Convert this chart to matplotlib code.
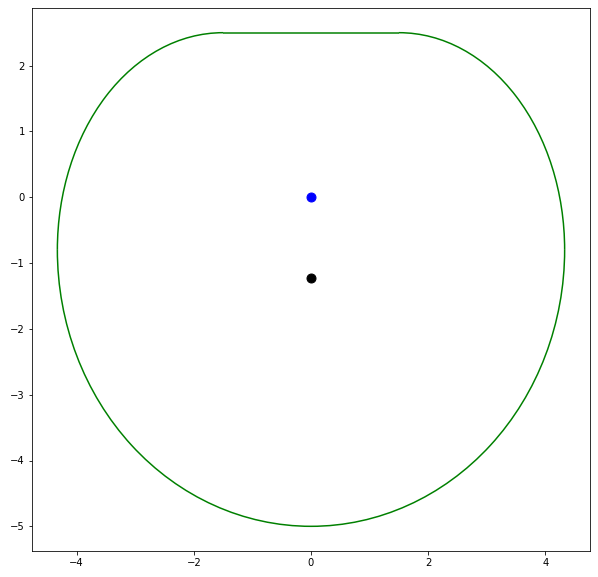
import matplotlib
matplotlib.use('Agg')
import matplotlib.pyplot as plt
from matplotlib.patches import Arc

# flat top edge of the boundary
top_x = [-1.5, 1.5]
top_y = [2.5, 2.5]

# curved parts of the boundary: upper-right, upper-left corner, lower half
arc_cx = [1.5, -1.5, 0.0]
arc_cy = [-0.8, -0.8, -0.8]
arc_w = [5.66, 5.66, 8.66]
arc_h = [6.6, 6.6, 8.4]
arc_t1 = [0, 90, 180]
arc_t2 = [90, 180, 360]

# points
blue_x = [0.0]
blue_y = [0.0]
black_x = [0.0]
black_y = [-1.22]

fig = plt.figure(figsize=(598 / 72, 577 / 72), dpi=72)
ax = fig.add_axes([32 / 598, 26 / 577, 558 / 598, 543 / 577])

ax.plot(top_x, top_y, color='g', linewidth=1.5, solid_capstyle='butt')
for cx, cy, w, h, t1, t2 in zip(arc_cx, arc_cy, arc_w, arc_h, arc_t1, arc_t2):
    ax.add_patch(Arc((cx, cy), w, h, theta1=t1, theta2=t2, color='g',
                     linewidth=1.5, capstyle='butt'))

ax.plot(blue_x, blue_y, 'o', color='b', markersize=9)
ax.plot(black_x, black_y, 'o', color='k', markersize=9)

# 5% margins around the boundary
xmin, xmax = -4.33, 4.33
ymin, ymax = -5.0, 2.5
ax.set_xlim(xmin - 0.05 * (xmax - xmin), xmax + 0.05 * (xmax - xmin))
ax.set_ylim(ymin - 0.05 * (ymax - ymin), ymax + 0.05 * (ymax - ymin))

fig.savefig('out.png', dpi=72)
